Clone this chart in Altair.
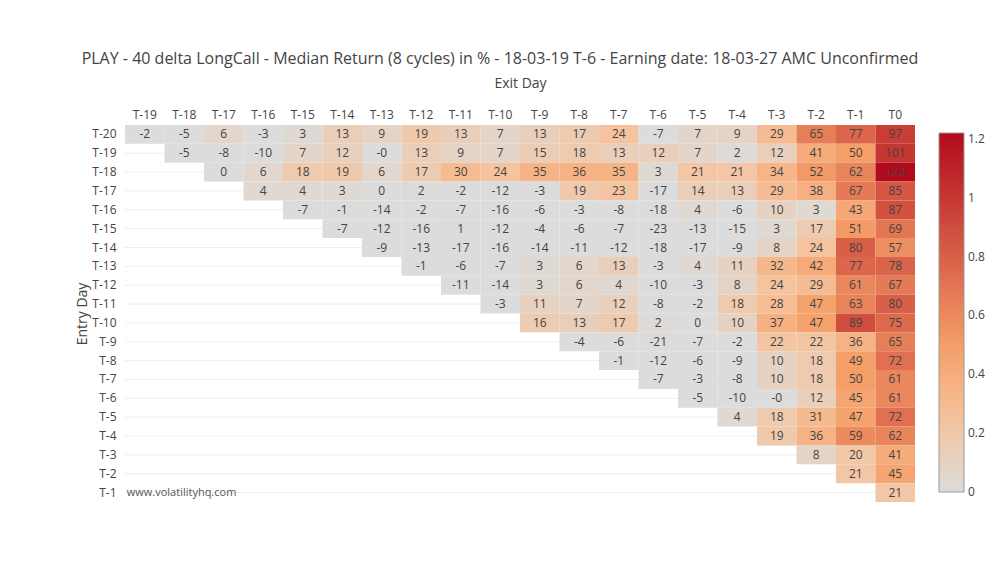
import altair as alt
import pandas as pd

exit_days = ["T-19", "T-18", "T-17", "T-16", "T-15", "T-14", "T-13", "T-12", "T-11", "T-10",
             "T-9", "T-8", "T-7", "T-6", "T-5", "T-4", "T-3", "T-2", "T-1", "T0"]
entry_days = ["T-20", "T-19", "T-18", "T-17", "T-16", "T-15", "T-14", "T-13", "T-12", "T-11",
              "T-10", "T-9", "T-8", "T-7", "T-6", "T-5", "T-4", "T-3", "T-2", "T-1"]

# Median returns in % per entry day (each row starts the day after entry)
row_t20 = [-2, -5, 6, -3, 3, 13, 9, 19, 13, 7, 13, 17, 24, -7, 7, 9, 29, 65, 77, 97]
row_t19 = [-5, -8, -10, 7, 12, -0.3, 13, 9, 7, 15, 18, 13, 12, 7, 2, 12, 41, 50, 101]
row_t18 = [0, 6, 18, 19, 6, 17, 30, 24, 35, 36, 35, 3, 21, 21, 34, 52, 62, 122]
row_t17 = [4, 4, 3, 0, 2, -2, -12, -3, 19, 23, -17, 14, 13, 29, 38, 67, 85]
row_t16 = [-7, -1, -14, -2, -7, -16, -6, -3, -8, -18, 4, -6, 10, 3, 43, 87]
row_t15 = [-7, -12, -16, 1, -12, -4, -6, -7, -23, -13, -15, 3, 17, 51, 69]
row_t14 = [-9, -13, -17, -16, -14, -11, -12, -18, -17, -9, 8, 24, 80, 57]
row_t13 = [-1, -6, -7, 3, 6, 13, -3, 4, 11, 32, 42, 77, 78]
row_t12 = [-11, -14, 3, 6, 4, -10, -3, 8, 24, 29, 61, 67]
row_t11 = [-3, 11, 7, 12, -8, -2, 18, 28, 47, 63, 80]
row_t10 = [16, 13, 17, 2, 0, 10, 37, 47, 89, 75]
row_t9 = [-4, -6, -21, -7, -2, 22, 22, 36, 65]
row_t8 = [-1, -12, -6, -9, 10, 18, 49, 72]
row_t7 = [-7, -3, -8, 10, 18, 50, 61]
row_t6 = [-5, -10, -0.3, 12, 45, 61]
row_t5 = [4, 18, 31, 47, 72]
row_t4 = [19, 36, 59, 62]
row_t3 = [8, 20, 41]
row_t2 = [21, 45]
row_t1 = [21]

rows = [row_t20, row_t19, row_t18, row_t17, row_t16, row_t15, row_t14, row_t13, row_t12,
        row_t11, row_t10, row_t9, row_t8, row_t7, row_t6, row_t5, row_t4, row_t3, row_t2, row_t1]

color_stops = [0, 0.244, 0.488, 1.22]
color_range = ["rgb(220,220,220)", "rgb(245,195,157)", "rgb(245,160,105)", "rgb(178,10,28)"]
legend_ticks = [0.0001, 0.2, 0.4, 0.6, 0.8, 1.0, 1.2]

records = []
for entry, vals in zip(entry_days, rows):
    start = len(exit_days) - len(vals)
    for j, v in enumerate(vals):
        records.append({"entry": entry, "exit": exit_days[start + j],
                        "frac": v / 100.0, "label": f"{v:.0f}"})
df = pd.DataFrame(records)

FONT = "Open Sans"

x_scale = alt.Scale(domain=exit_days, paddingInner=0, paddingOuter=0)
y_scale = alt.Scale(domain=entry_days, paddingInner=0, paddingOuter=0)

x_enc = alt.X("exit:N", sort=exit_days, scale=x_scale,
              axis=alt.Axis(orient="top", title="Exit Day", labelAngle=0, ticks=False,
                            domain=False, grid=False, labelPadding=4, titlePadding=18,
                            labelFontSize=12, titleFontSize=14, titleFontWeight="normal",
                            labelColor="#444", titleColor="#444",
                            labelFont=FONT, titleFont=FONT))
y_enc = alt.Y("entry:N", sort=entry_days, scale=y_scale,
              axis=alt.Axis(title="Entry Day", ticks=False, domain=False, grid=False,
                            labelPadding=9, titlePadding=2, labelFontSize=12,
                            titleFontSize=14, titleFontWeight="normal",
                            labelColor="#444", titleColor="#444",
                            labelFont=FONT, titleFont=FONT))

# horizontal grid lines at the row centres, drawn behind the cells
grid_df = pd.DataFrame({"entry": entry_days})
grid = alt.Chart(grid_df).mark_rule(color="#eeeeee", strokeWidth=1).encode(
    y=alt.Y("entry:N", sort=entry_days, scale=y_scale, bandPosition=0.5),
    x=alt.value(0), x2=alt.value(790)
)

base = alt.Chart(df).encode(x=x_enc, y=y_enc)

rects = base.mark_rect().encode(
    color=alt.Color("frac:Q",
                    scale=alt.Scale(domain=color_stops, range=color_range,
                                    clamp=True, interpolate="rgb"),
                    legend=alt.Legend(title=None, orient="none", legendX=814, legendY=8,
                                      direction="vertical", gradientLength=359,
                                      gradientThickness=25, values=legend_ticks,
                                      format="~g",
                                      labelExpr="datum.value < 0.01 ? '0' : datum.label",
                                      labelFont=FONT, labelFontSize=12,
                                      labelColor="#444", gradientStrokeColor="#999",
                                      gradientStrokeWidth=1, labelOffset=4))
)

labels = base.mark_text(font=FONT, fontSize=12, color="#444").encode(text="label:N")

wm_df = pd.DataFrame({"exit": ["T-19"], "entry": ["T-1"], "txt": ["www.volatilityhq.com"]})
watermark = alt.Chart(wm_df).mark_text(
    font=FONT, fontSize=11, color="#555", align="left", dx=-18
).encode(x=x_enc, y=y_enc, text="txt:N")

chart = alt.layer(grid, rects, labels, watermark).properties(
    width=790, height=377,
    title=alt.TitleParams(
        "PLAY - 40 delta LongCall - Median Return (8 cycles) in % - 18-03-19 T-6 - Earning date: 18-03-27 AMC Unconfirmed",
        font=FONT, fontSize=16, fontWeight="normal", color="#444",
        anchor="middle", frame="group", dx=-20, offset=9),
    autosize=alt.AutoSizeParams(type="none"),
    padding={"left": 117, "top": 117, "right": 70, "bottom": 60},
).configure_view(stroke=None)

chart.save("out.html", embed_options={"renderer": "svg", "actions": False})
